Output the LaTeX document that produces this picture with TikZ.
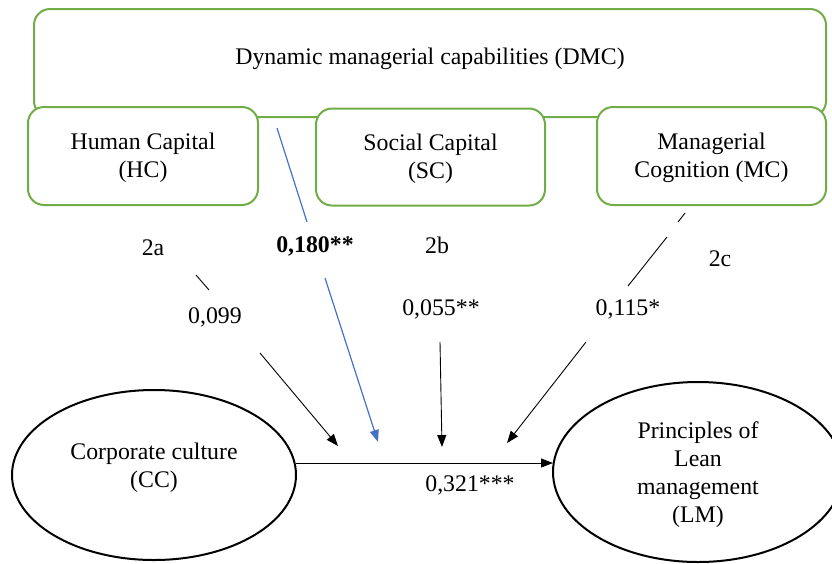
\documentclass[tikz,border=0pt]{standalone}
\usepackage{fontspec}
\setmainfont{Liberation Serif}
\usetikzlibrary{shapes.geometric,arrows.meta}
\definecolor{boxgreen}{HTML}{70AD47}
\definecolor{lineblue}{HTML}{4472C4}
\begin{document}
\begin{tikzpicture}[x=1pt,y=-1pt,
  every node/.style={font=\fontsize{23.8}{28}\selectfont, inner sep=0pt, outer sep=0pt},
  gbox/.style={draw=boxgreen, line width=2pt, rounded corners=16pt, fill=white, align=center},
  oval/.style={draw=black, ellipse, line width=2pt, align=center},
  lbl/.style={align=center},
  conn/.style={draw=black, line width=0.9pt},
  arr/.style={conn, -{Triangle[length=12pt,width=9pt]}},
  bconn/.style={draw=lineblue, line width=1.2pt},
  barr/.style={bconn, -{Triangle[length=12pt,width=9pt]}}]
\useasboundingbox (0,0) rectangle (832,563);

% DMC box and its sub-boxes
\node[gbox, minimum width=792pt, minimum height=108pt,
      label={[yshift=4pt]center:Dynamic managerial capabilities (DMC)}] (dmc) at (430,63) {};
\node[gbox, minimum width=230pt, minimum height=98pt,
      label={[yshift=-2pt,align=center]center:Human Capital\\(HC)}] (hc) at (143,156) {};
\node[gbox, minimum width=229pt, minimum height=97pt,
      label={[yshift=-2pt,align=center]center:Social Capital\\(SC)}] (sc) at (430.5,157) {};
\node[gbox, minimum width=229pt, minimum height=98pt,
      label={[yshift=-2pt,align=center]center:Managerial\\Cognition (MC)}] (mc) at (711.5,156) {};

% Ellipses
\node[oval, minimum width=284pt, minimum height=170pt,
      label={[yshift=7pt,align=center]center:Corporate culture\\(CC)}] (cc) at (154,475) {};
\node[oval, minimum width=290pt, minimum height=180pt,
      label={[yshift=-3pt,align=center]center:Principles of\\Lean\\management\\(LM)}] (lm) at (698,472) {};

% Labels
\node[lbl] (l2a) at (153,248) {2a};
\node[lbl] (l180) at (315,246) {\bfseries 0,180**};
\node[lbl] (l2b) at (437,245) {2b};
\node[lbl] (l2c) at (720,259) {2c};
\node[lbl] (l099) at (215,317) {0,099};
\node[lbl] (l055) at (441,309) {0,055**};
\node[lbl] (l115) at (628,309) {0,115*};
\node[lbl] (l321) at (470,485) {0,321***};

% Connector coordinates
\coordinate (a1) at (196,275);
\coordinate (a2) at (209,290);
\coordinate (a3) at (260,353);
\coordinate (a4) at (338,446);
\coordinate (b1) at (277,128);
\coordinate (b2) at (307,222);
\coordinate (b3) at (325,278);
\coordinate (b4) at (378,442);
\coordinate (c1) at (440,342);
\coordinate (c2) at (442,447);
\coordinate (d1) at (685,213);
\coordinate (d2) at (678,222);
\coordinate (d3) at (667,237);
\coordinate (d4) at (628,286);
\coordinate (d5) at (586,342);
\coordinate (d6) at (507,443);

% Connectors
\draw[conn] (a1) -- (a2);
\draw[arr] (a3) -- (a4);
\draw[bconn] (b1) -- (b2);
\draw[barr] (b3) -- (b4);
\draw[arr] (c1) -- (c2);
\draw[conn] (d1) -- (d2);
\draw[conn] (d3) -- (d4);
\draw[arr] (d5) -- (d6);
\draw[arr] ([yshift=12pt]cc.east) -- ([yshift=9pt]lm.west);
\end{tikzpicture}
\end{document}
